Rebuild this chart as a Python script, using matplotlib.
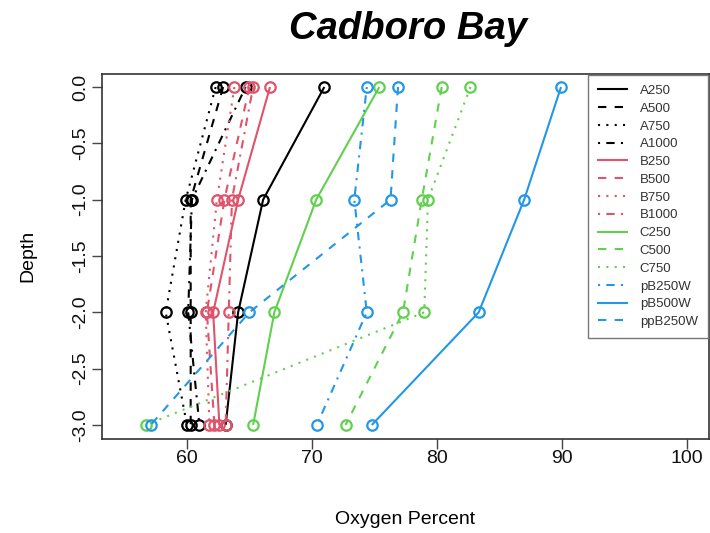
import matplotlib
matplotlib.use('Agg')
import matplotlib.pyplot as plt
from matplotlib.lines import Line2D

plt.rcParams['font.family'] = ['Liberation Sans', 'DejaVu Sans']

depth = [0, -1, -2, -3]

names = ['A250', 'A500', 'A750', 'A1000', 'B250', 'B500', 'B750', 'B1000',
         'C250', 'C500', 'C750', 'pB250W', 'pB500W', 'ppB250W']

A250 = [71.0, 66.1, 64.1, 63.1]
A500 = [62.9, 60.3, 60.3, 60.3]
A750 = [62.3, 59.9, 58.3, 60.0]
A1000 = [64.7, 60.4, 60.1, 61.0]
B250 = [66.65, 64.1, 62.1, 62.6]
B500 = [65.0, 63.0, 61.6, 62.2]
B750 = [63.8, 62.4, 61.5, 61.8]
B1000 = [65.3, 63.6, 63.35, 63.1]
C250 = [75.4, 70.35, 67.0, 65.3]
C500 = [80.4, 78.8, 77.3, 72.7]
C750 = [82.7, 79.3, 79.0, 56.7]
pB250W = [74.4, 73.4, 74.4, 70.4]
pB500W = [89.95, 87.0, 83.36, 74.8]
ppB250W = [76.9, 76.3, 65.0, 57.1]

values = [A250, A500, A750, A1000, B250, B500, B750, B1000,
          C250, C500, C750, pB250W, pB500W, ppB250W]

BLACK, RED, GREEN, BLUE = '#000000', '#DF536B', '#61D04F', '#2297E6'
colors = [BLACK] * 4 + [RED] * 4 + [GREEN] * 3 + [BLUE] * 3

solid = '-'
dashed = (0, (4, 4))
dotted = (0, (1, 3))
dotdash = (0, (1, 3, 4, 3))
styles = [solid, dashed, dotted, dotdash,
          solid, dashed, dotted, dotdash,
          solid, dashed, dotted,
          dotdash, solid, dashed]

xticks = [60, 70, 80, 90, 100]
yticks = [0.0, -0.5, -1.0, -1.5, -2.0, -2.5, -3.0]

W, H = 710, 533
fig = plt.figure(figsize=(W / 100, H / 100), dpi=100)
ax = fig.add_axes([102 / W, 1 - 438.5 / H, (709 - 102) / W, (438.5 - 73.5) / H])

for vals, c, ls in zip(values, colors, styles):
    ax.plot(vals, depth, color=c, linestyle=ls, lw=1.5, marker='o',
            markersize=7.5, markerfacecolor='none', markeredgecolor=c,
            markeredgewidth=1.6, solid_capstyle='butt', dash_capstyle='butt')

ax.set_xlim(53.2, 101.8)
ax.set_ylim(-3.12, 0.12)
ax.set_xticks(xticks)
ax.set_xticklabels([str(v) for v in xticks])
ax.set_yticks(yticks)
ax.set_yticklabels(['%.1f' % v for v in yticks], rotation=90, va='center')
ax.tick_params(axis='both', labelsize=14, length=7, width=1, color='#444444',
               direction='out', labelcolor='#111111')
ax.tick_params(axis='x', pad=1)
ax.tick_params(axis='y', pad=2)
for s in ax.spines.values():
    s.set_color('#333333')
    s.set_linewidth(1.2)

ax.set_xlabel('Oxygen Percent', fontsize=14, labelpad=32)
ax.set_ylabel('Depth', fontsize=14, labelpad=26)

fig.text(408 / W, 1 - 29 / H, 'Cadboro Bay', fontsize=27.5, fontweight='bold',
         fontstyle='italic', ha='center', va='center')

handles = [Line2D([], [], color=c, linestyle=ls, lw=1.5)
           for c, ls in zip(colors, styles)]
leg = ax.legend(handles, names, loc='upper right', fontsize=9.5,
                borderaxespad=0.1, frameon=True, fancybox=False,
                edgecolor='#777777', framealpha=1, handlelength=2.2,
                handletextpad=1.0, labelspacing=0.42, borderpad=0.75)
leg.get_frame().set_linewidth(1.0)
for t in leg.get_texts():
    t.set_color('#333333')

fig.savefig('out.png', dpi=100)
